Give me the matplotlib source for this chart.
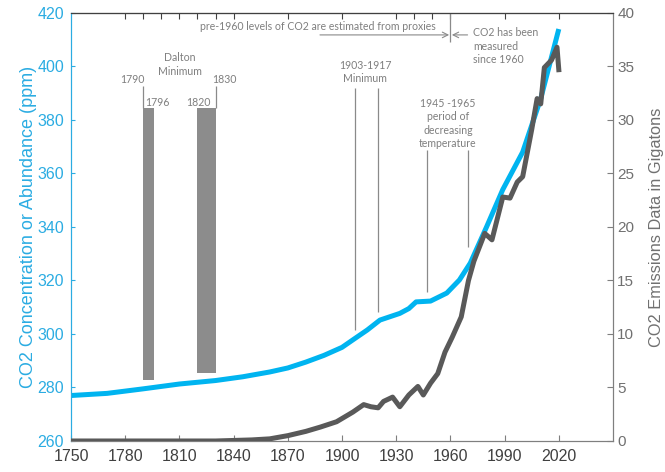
import matplotlib
matplotlib.use("Agg")
import matplotlib.pyplot as plt

# ----------------------------------
# DATA
# ----------------------------------

co2_years = [1750, 1770, 1790, 1810, 1830, 1845, 1860, 1870, 1880, 1890,
             1900, 1906, 1914, 1921, 1932, 1937, 1941, 1949, 1958, 1965,
             1971, 1980, 1989, 2000, 2010, 2020]
co2_ppm = [277.0, 277.8, 279.5, 281.3, 282.6, 284.0, 285.8, 287.3, 289.5, 292.0,
           295.0, 297.8, 301.5, 305.2, 307.7, 309.5, 312.0, 312.3, 315.3, 320.2,
           326.5, 340.0, 354.0, 368.0, 388.0, 414.0]

emis_years = [1750, 1800, 1830, 1850, 1860, 1870, 1880, 1888, 1897, 1906,
              1912, 1916, 1920, 1923, 1928, 1932, 1937, 1942, 1945, 1949,
              1953, 1957, 1961, 1966, 1970, 1973, 1979, 1983, 1989, 1993,
              1997, 2000, 2005, 2008, 2010, 2012, 2016, 2019, 2020]
emis_gt = [0.0, 0.0, 0.0, 0.1, 0.2, 0.5, 0.9, 1.3, 1.8, 2.7,
           3.4, 3.2, 3.1, 3.7, 4.1, 3.2, 4.3, 5.1, 4.3, 5.4,
           6.3, 8.3, 9.7, 11.6, 15.0, 16.8, 19.4, 18.8, 22.8, 22.7,
           24.2, 24.7, 29.1, 32.0, 31.5, 34.9, 35.6, 36.8, 34.7]

# Dalton Minimum bars
bar_starts = [1790, 1820]
bar_ends = [1796, 1830]
bar_bottoms = [282.8, 285.4]
bar_tops = [384.5, 384.5]

# marker lines (year, bottom ppm, top ppm)
marker_years = [1790, 1830, 1907, 1920, 1947, 1970]
marker_bottoms = [384.5, 384.5, 301.5, 308.2, 315.7, 332.5]
marker_tops = [392.7, 392.7, 392.0, 392.0, 368.8, 368.8]

xticks = list(range(1750, 2021, 30))
top_ticks = [1780, 1790, 1800, 1810, 1820, 1830, 1840, 1870,
             1900, 1930, 1940, 1950, 1960, 1990, 2020]

# ----------------------------------
# STYLE
# ----------------------------------

CYAN_TXT = "#2bace2"
CYAN_LINE = "#00b4f0"
DARK = "#595959"
GREY_TXT = "#7f7f7f"
BAR = "#8c8c8c"

plt.rcParams["font.family"] = ["Liberation Sans", "DejaVu Sans"]
note_font = ["Lato", "DejaVu Sans"]

fig = plt.figure(figsize=(6.65, 4.72), dpi=100)
ax = fig.add_axes([0.1068, 0.0657, 0.815, 0.9068])
ax2 = ax.twinx()

# ----------------------------------
# PLOT
# ----------------------------------

ax.plot(co2_years, co2_ppm, color=CYAN_LINE, lw=3.6,
        solid_capstyle="butt", zorder=3)

ax2.plot(emis_years, emis_gt, color=DARK, lw=3.6,
         solid_joinstyle="round", zorder=3)

widths = [e - s for s, e in zip(bar_starts, bar_ends)]
heights = [t - b for b, t in zip(bar_bottoms, bar_tops)]
ax.bar(bar_starts, heights, width=widths, bottom=bar_bottoms,
       align="edge", color=BAR, zorder=2)

ax.vlines(marker_years, marker_bottoms, marker_tops,
          color="#8a8a8a", lw=0.9, zorder=2)

# 1960 divider + proxy / measured arrows
ax.vlines(1960, 409.2, 420, color="#8a8a8a", lw=0.9)
ax.annotate("", xy=(1959.3, 411.8), xytext=(1887.8, 411.8),
            arrowprops=dict(arrowstyle="->", color="#8a8a8a", lw=0.8,
                            shrinkA=0, shrinkB=0))
ax.annotate("", xy=(1960.8, 411.8), xytext=(1969.5, 411.8),
            arrowprops=dict(arrowstyle="->", color="#8a8a8a", lw=0.8,
                            shrinkA=0, shrinkB=0))

note = dict(color=GREY_TXT, fontsize=7.6, family=note_font,
            linespacing=1.25)
ax.text(1952, 414.8, "pre-1960 levels of CO2 are estimated from proxies",
        ha="right", va="center", **note)
ax.text(1972.5, 414.6, "CO2 has been\nmeasured\nsince 1960",
        ha="left", va="top", **note)
ax.text(1810.3, 400.7, "Dalton\nMinimum", ha="center", va="center", **note)
ax.text(1783.8, 395.3, "1790", ha="center", va="center", **note)
ax.text(1834.7, 395.3, "1830", ha="center", va="center", **note)
ax.text(1797.6, 386.7, "1796", ha="center", va="center", **note)
ax.text(1820.6, 386.7, "1820", ha="center", va="center", **note)
ax.text(1912.7, 397.9, "1903-1917\nMinimum", ha="center", va="center", **note)
ax.text(1958.6, 378.7, "1945 -1965\nperiod of\ndecreasing\ntemperature",
        ha="center", va="center", **note)

# ----------------------------------
# AXES
# ----------------------------------

ax.set_xlim(1750, 2050)
ax.set_ylim(260, 420)
ax2.set_ylim(0, 40)

ax.set_xticks(xticks)
ax.set_yticks(range(260, 421, 20))
ax2.set_yticks(range(0, 41, 5))

ax.tick_params(axis="x", direction="in", length=4, color=GREY_TXT,
               labelsize=11.5, labelcolor="#404040", pad=6)
ax.tick_params(axis="y", direction="in", length=3, color=CYAN_TXT,
               labelsize=11.5, labelcolor=CYAN_TXT, pad=5)
ax2.tick_params(axis="y", direction="in", length=4, color=GREY_TXT,
                labelsize=11, labelcolor="#707070", pad=3)

top = ax.secondary_xaxis("top")
top.set_xticks(top_ticks)
top.set_xticklabels([])
top.tick_params(direction="in", length=4, color="#404040")
top.spines["top"].set_color("#404040")

for a in (ax, ax2):
    a.spines["left"].set_color(CYAN_TXT)
    a.spines["right"].set_color(GREY_TXT)
    a.spines["bottom"].set_color(GREY_TXT)
    a.spines["top"].set_color("#404040")

ax.set_ylabel("CO2 Concentration or Abundance (ppm)", color=CYAN_TXT,
              fontsize=13, labelpad=0)
ax2.set_ylabel("CO2 Emissions Data in Gigatons", color="#707070",
               fontsize=11.8, labelpad=11)

fig.savefig("out.png", dpi=100)
